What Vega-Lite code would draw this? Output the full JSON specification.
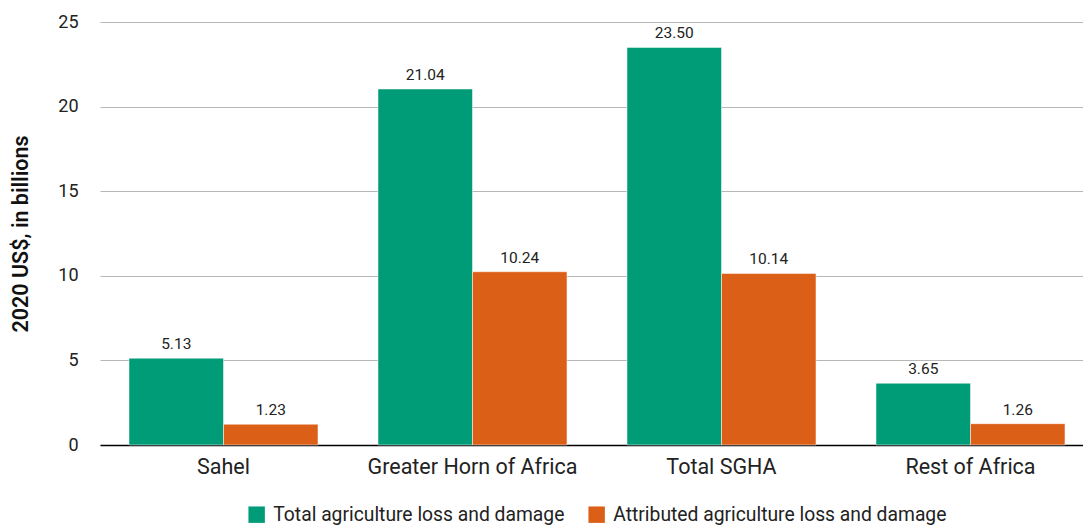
{
  "$schema": "https://vega.github.io/schema/vega-lite/v6.json",
  "width": 983,
  "height": 423,
  "autosize": {"type": "none"},
  "padding": {"left": 100, "top": 22, "right": 0, "bottom": 80},
  "background": "white",
  "config": {
    "font": "Roboto",
    "view": {"stroke": null}
  },
  "data": {
    "values": [
      {"region": "Sahel", "series": "Total agriculture loss and damage", "value": 5.13},
      {"region": "Sahel", "series": "Attributed agriculture loss and damage", "value": 1.23},
      {"region": "Greater Horn of Africa", "series": "Total agriculture loss and damage", "value": 21.04},
      {"region": "Greater Horn of Africa", "series": "Attributed agriculture loss and damage", "value": 10.24},
      {"region": "Total SGHA", "series": "Total agriculture loss and damage", "value": 23.50},
      {"region": "Total SGHA", "series": "Attributed agriculture loss and damage", "value": 10.14},
      {"region": "Rest of Africa", "series": "Total agriculture loss and damage", "value": 3.65},
      {"region": "Rest of Africa", "series": "Attributed agriculture loss and damage", "value": 1.26}
    ]
  },
  "encoding": {
    "x": {
      "field": "region",
      "type": "nominal",
      "sort": ["Sahel", "Greater Horn of Africa", "Total SGHA", "Rest of Africa"],
      "scale": {"paddingInner": 0.241, "paddingOuter": 0.0944, "align": 0.617},
      "axis": {
        "title": null,
        "labelAngle": 0,
        "labelFontSize": 21.5,
        "labelLimit": 0,
        "labelColor": "#222222",
        "labelPadding": 11,
        "ticks": false,
        "domainColor": "#000000",
        "domainWidth": 1.5,
        "grid": false
      }
    },
    "xOffset": {
      "field": "series",
      "type": "nominal",
      "sort": ["Total agriculture loss and damage", "Attributed agriculture loss and damage"],
      "scale": {"paddingInner": 0, "paddingOuter": 0}
    },
    "y": {
      "field": "value",
      "type": "quantitative",
      "scale": {"domain": [0, 25]},
      "axis": {
        "title": "2020 US$, in billions",
        "titleFontSize": 21.5,
        "titleFontWeight": 600,
        "titleColor": "#111111",
        "titlePadding": 25,
        "values": [0, 5, 10, 15, 20, 25],
        "labelFontSize": 18,
        "labelColor": "#222222",
        "labelPadding": 22,
        "domain": false,
        "ticks": false,
        "gridColor": "#b7b7b7",
        "gridWidth": 1.2
      }
    }
  },
  "layer": [
    {
      "mark": {"type": "bar", "stroke": "white", "strokeWidth": 0.5},
      "encoding": {
        "color": {
          "field": "series",
          "type": "nominal",
          "sort": ["Total agriculture loss and damage", "Attributed agriculture loss and damage"],
          "scale": {"range": ["#009B77", "#DC5F18"]},
          "legend": {
            "title": null,
            "orient": "none",
            "legendX": 147,
            "legendY": 483,
            "direction": "horizontal",
            "symbolType": "square",
            "symbolSize": 270,
            "symbolStrokeWidth": 0,
            "labelFontSize": 19.3,
            "labelLimit": 0,
            "labelOffset": 7,
            "labelColor": "#222222",
            "columnPadding": 22
          }
        }
      }
    },
    {
      "mark": {"type": "text", "dy": -14, "fontSize": 15.5, "color": "#222222"},
      "encoding": {
        "text": {"field": "value", "type": "quantitative", "format": ".2f"}
      }
    }
  ]
}
